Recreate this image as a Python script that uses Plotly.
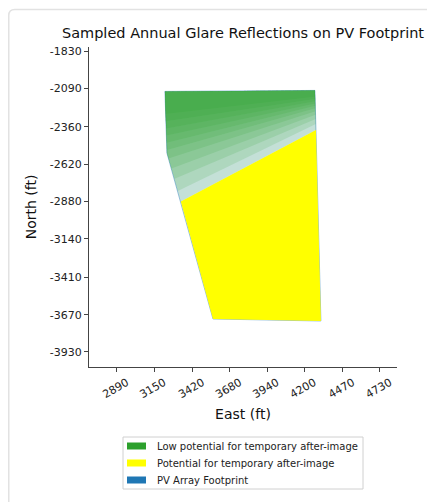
import plotly.graph_objects as go

# ---------------- data ----------------
title_text = "Sampled Annual Glare Reflections on PV Footprint"
x_label = "East (ft)"
y_label = "North (ft)"
x_ticks = [2890, 3150, 3420, 3680, 3940, 4200, 4470, 4730]
y_ticks = [-1830, -2090, -2360, -2620, -2880, -3140, -3410, -3670, -3930]
x_range = [2695, 4849]
y_range = [-4035, -1802]

# PV array footprint outline (east, north)
footprint_east = [3226, 4275, 4317, 3562, 3240, 3226]
footprint_north = [-2112, -2105, -3714, -3700, -2542, -2112]

# Low potential (green) glare region
low_east = [3226, 4275, 4282, 3337, 3240]
low_north = [-2112, -2105, -2381, -2880, -2542]

# lower edges of sampled green reflection patches (left end / right end)
band_left_east = [3230, 3232, 3234, 3236, 3238, 3240, 3250, 3272, 3294, 3316]
band_left_north = [-2270, -2320, -2370, -2420, -2470, -2520, -2580, -2650, -2722, -2806]
band_right_east = [4276, 4276, 4277, 4277, 4278, 4278, 4279, 4279, 4280, 4281]
band_right_north = [-2150, -2165, -2180, -2196, -2212, -2230, -2250, -2275, -2305, -2340]

# Potential for after-image (yellow) region
pot_east = [3337, 4282, 4317, 3562]
pot_north = [-2880, -2381, -3714, -3700]

legend_names = ["Low potential for temporary after-image",
                "Potential for temporary after-image",
                "PV Array Footprint"]
legend_colors = ["#2ca02c", "#ffff00", "#1f77b4"]

# ---------------- figure ----------------
# the page body adds an 8px margin, so the figure is 8px smaller than the window
W, H = 427, 494
L, R, T, B = 81, 38, 39, 135
PW, PH = W - L - R, H - T - B


def px(x):
    return (x - L) / PW


def py(y):
    return (H - B - y) / PH


FONT = "DejaVu Sans"
GREEN_PATCH = "rgba(44,160,44,0.14)"
fig = go.Figure()

fig.add_trace(go.Scatter(x=footprint_east, y=footprint_north, mode="lines",
                         fill="toself", fillcolor="rgba(31,119,180,0.15)",
                         line=dict(color="rgba(31,119,180,0.45)", width=1),
                         name=legend_names[2], showlegend=False, hoverinfo="skip"))

fig.add_trace(go.Scatter(x=low_east, y=low_north, mode="lines", fill="toself",
                         fillcolor=GREEN_PATCH, line=dict(width=0),
                         name=legend_names[0], showlegend=False, hoverinfo="skip"))

corner_le, corner_ln = footprint_east[4], footprint_north[4]
for le, ln, re_, rn in zip(band_left_east, band_left_north, band_right_east, band_right_north):
    xs = [footprint_east[0], footprint_east[1], re_, le]
    ys = [footprint_north[0], footprint_north[1], rn, ln]
    if ln < corner_ln:
        xs.append(corner_le)
        ys.append(corner_ln)
    fig.add_trace(go.Scatter(x=xs, y=ys, mode="lines", fill="toself",
                             fillcolor=GREEN_PATCH, line=dict(width=0),
                             showlegend=False, hoverinfo="skip"))

fig.add_trace(go.Scatter(x=pot_east, y=pot_north, mode="lines", fill="toself",
                         fillcolor="#ffff00", line=dict(width=0),
                         name=legend_names[1], showlegend=False, hoverinfo="skip"))

# card border
cl, ct, cr, cb, rad = 0.75, 1.5, W + 10, H + 10, 6
card_path = (f"M {px(cl)},{py(cb)} L {px(cl)},{py(ct + rad)} "
             f"Q {px(cl)},{py(ct)} {px(cl + rad)},{py(ct)} L {px(cr)},{py(ct)}")
shapes = [
    dict(type="path", xref="paper", yref="paper", path=card_path,
         line=dict(color="#e2e2e2", width=1.5), layer="below"),
]

# legend (drawn as box + swatches + text)
lg_x0, lg_x1, lg_y0, lg_y1 = 115, 355, 429, 481
rows_y = [438, 455, 472]
sw_x0, sw_x1, sw_h, txt_x = 119, 138, 7, 147
shapes.append(dict(type="rect", xref="paper", yref="paper",
                   x0=px(lg_x0), x1=px(lg_x1), y0=py(lg_y1), y1=py(lg_y0),
                   fillcolor="white", line=dict(color="#d0d0d0", width=1)))
annotations = []
for name, col, ry in zip(legend_names, legend_colors, rows_y):
    shapes.append(dict(type="rect", xref="paper", yref="paper",
                       x0=px(sw_x0), x1=px(sw_x1), y0=py(ry + sw_h / 2), y1=py(ry - sw_h / 2),
                       fillcolor=col, line=dict(width=0)))
    annotations.append(dict(text=name, xref="paper", yref="paper", x=px(txt_x), y=py(ry),
                            xanchor="left", yanchor="middle", showarrow=False,
                            font=dict(family=FONT, size=10, color="#222")))

axis_common = dict(showgrid=False, zeroline=False, showline=True, linecolor="#444",
                   linewidth=1, ticks="outside", ticklen=4, tickcolor="#444",
                   tickfont=dict(family=FONT, size=11, color="#222"),
                   mirror=False)

fig.update_layout(
    width=W, height=H,
    margin=dict(l=L, r=R, t=T, b=B, autoexpand=False),
    paper_bgcolor="white", plot_bgcolor="white",
    title=dict(text=title_text, x=0.5, xref="paper", xanchor="center",
               y=1 - 25 / H, yref="container", yanchor="middle",
               font=dict(family=FONT, size=14.5, color="#111")),
    xaxis=dict(range=x_range, tickvals=x_ticks, ticktext=[str(v) for v in x_ticks],
               tickangle=-30, ticklabelshift=10,
               title=dict(text=x_label, standoff=9, font=dict(family=FONT, size=14, color="#111")),
               **axis_common),
    yaxis=dict(range=y_range, tickvals=y_ticks, ticktext=[str(v) for v in y_ticks],
               title=dict(text=y_label, standoff=9, font=dict(family=FONT, size=14, color="#111")),
               **axis_common),
    shapes=shapes,
    annotations=annotations,
    showlegend=False,
)

fig.write_html("out.html")
